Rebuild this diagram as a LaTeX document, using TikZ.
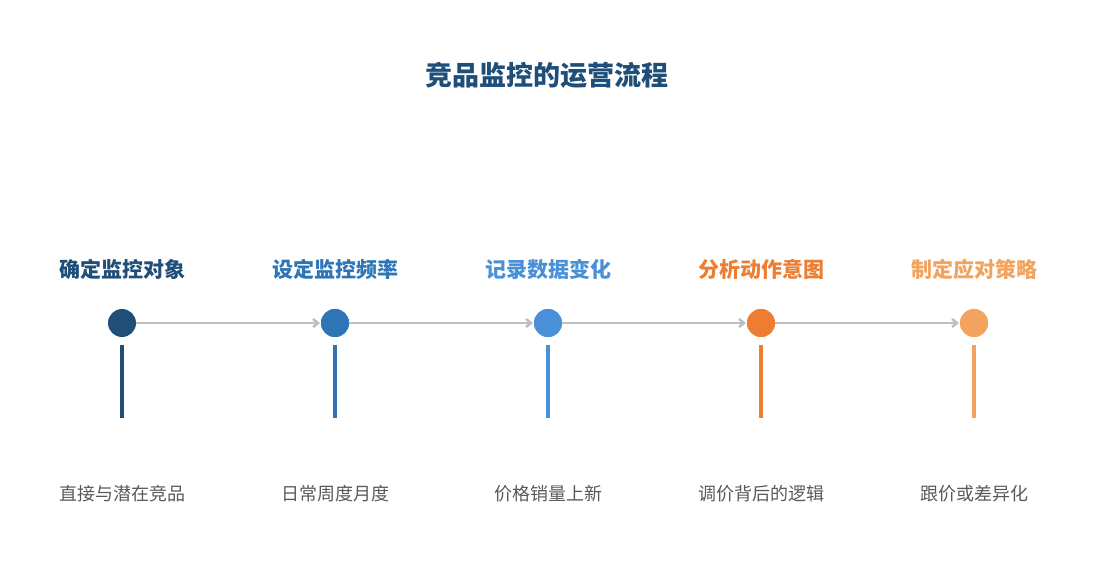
\documentclass[tikz,border=0pt]{standalone}
\usepackage{fontspec}
\setmainfont{Noto Sans CJK SC}
\usetikzlibrary{arrows.meta}
\definecolor{stepA}{HTML}{1F4E79}
\definecolor{stepB}{HTML}{2E75B6}
\definecolor{stepC}{HTML}{4A90D9}
\definecolor{stepD}{HTML}{ED7D31}
\definecolor{stepE}{HTML}{F2A35E}
\definecolor{lineGray}{HTML}{BFBFBF}
\definecolor{textGray}{HTML}{595959}
\tikzset{
	dot/.style={circle,fill=#1,minimum size=28pt,inner sep=0,outer sep=0},
	head/.style={text=#1,font=\bfseries\fontsize{21}{24}\selectfont},
	foot/.style={text=textGray,font=\fontsize{18}{22}\selectfont},
	stem/.style={line width=3.5pt,draw=#1},
	link/.style={-{Straight Barb[length=5pt,width=8pt]},line width=2.5pt,draw=lineGray,shorten >=1pt}
}
\begin{document}
\begin{tikzpicture}[x=1pt,y=-1pt]
	\useasboundingbox (0,0) rectangle (1095,585);
	\node[text=stepA,font=\bfseries\fontsize{27}{30}\selectfont] (title) at (547,75) {竞品监控的运营流程};
	% steps
	\foreach \i/\x/\c/\h/\f in {1/122/stepA/确定监控对象/直接与潜在竞品,
		2/335/stepB/设定监控频率/日常周度月度,
		3/548/stepC/记录数据变化/价格销量上新,
		4/761/stepD/分析动作意图/调价背后的逻辑,
		5/974/stepE/制定应对策略/跟价或差异化}{
		\node[head=\c] (h\i) at (\x,269) {\h};
		\node[dot=\c] (d\i) at (\x,323) {};
		\coordinate (s\i) at (\x,345);
		\coordinate (e\i) at (\x,418);
		\draw[stem=\c] (s\i) -- (e\i);
		\node[foot] (f\i) at (\x,494) {\f};
	}
	\foreach \a/\b in {1/2,2/3,3/4,4/5}
		\draw[link] (d\a) -- (d\b);
	% redraw dots over arrow tips
	\foreach \i/\c in {2/stepB,3/stepC,4/stepD,5/stepE}
		\node[dot=\c] at (d\i) {};
\end{tikzpicture}
\end{document}
